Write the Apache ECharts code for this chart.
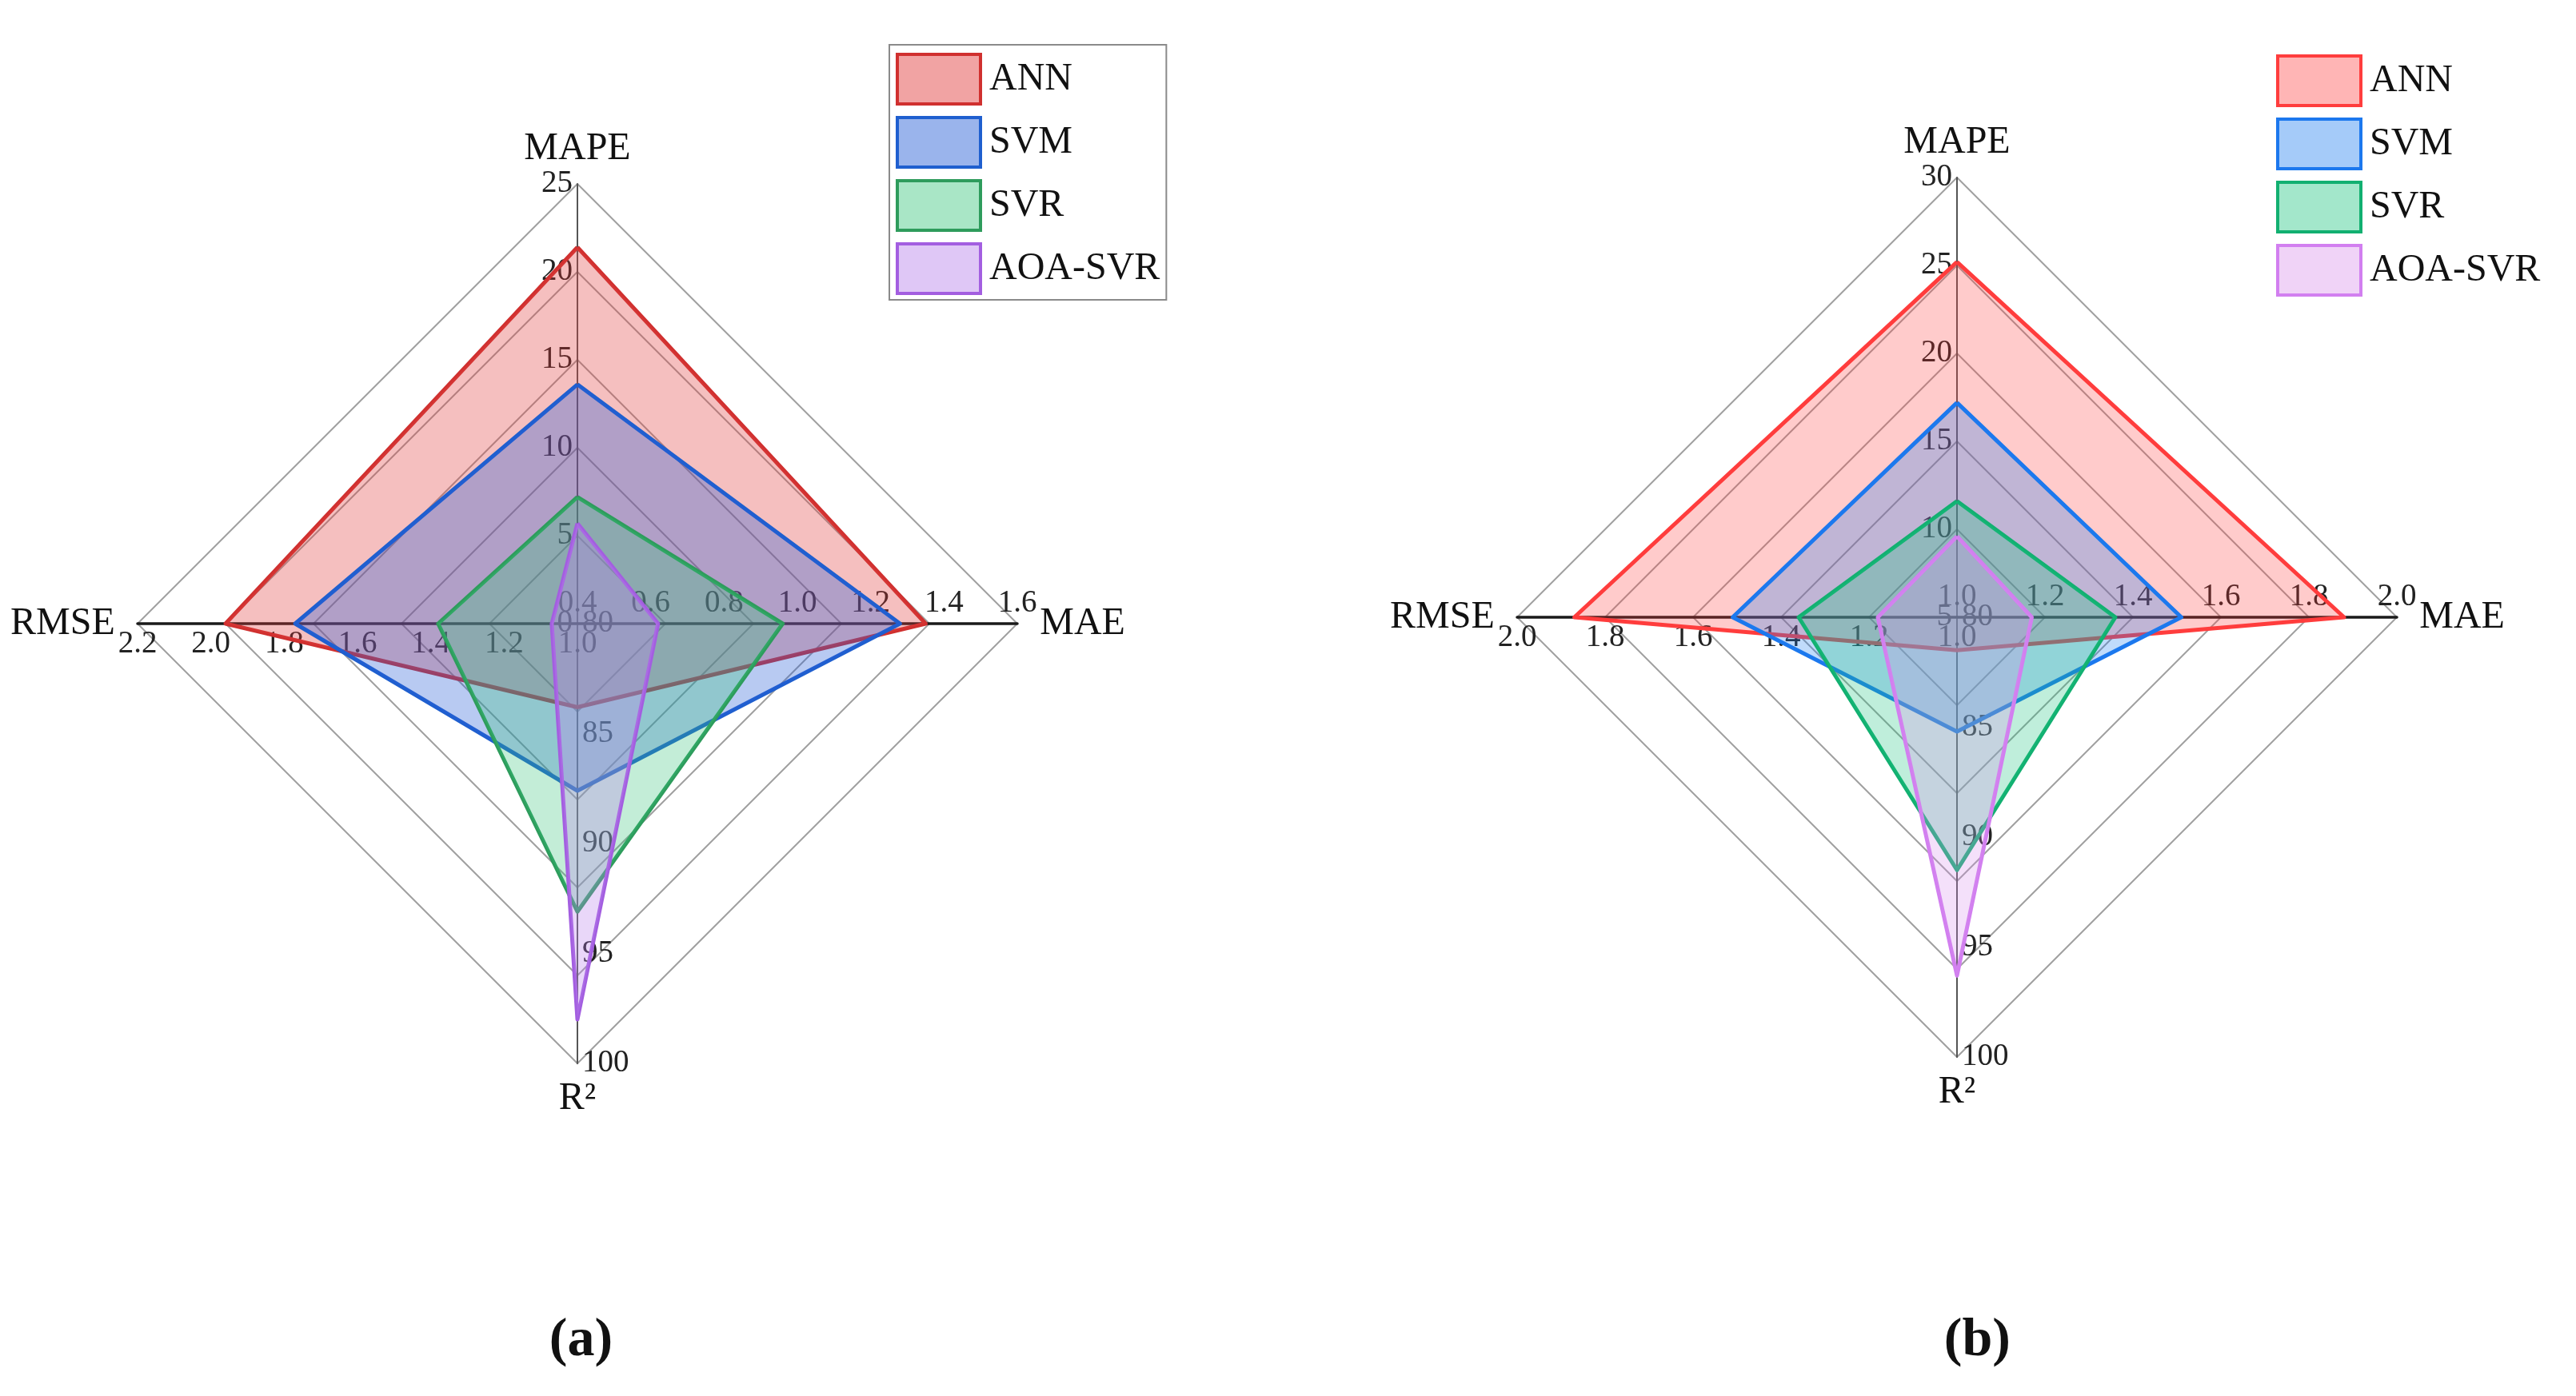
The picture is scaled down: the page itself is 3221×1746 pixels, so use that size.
<!DOCTYPE html>
<html>
<head>
<meta charset="utf-8">
<script src="https://cdn.jsdelivr.net/npm/echarts@6/dist/echarts.min.js"></script>
<style>
html,body{margin:0;padding:0;background:#fff;}
#chart{width:3221px;height:1746px;}
</style>
</head>
<body>
<div id="chart"></div>
<script>
// ---- Data ----
const models = ['ANN', 'SVM', 'SVR', 'AOA-SVR'];
const indicatorNames = ['MAPE', 'RMSE', 'R²', 'MAE'];

// Panel (a)
const mapeA = [21.4, 13.6, 7.2, 5.7];
const rmseA = [1.96, 1.77, 1.38, 1.07];
const r2A = [83.8, 87.6, 93.1, 98.0];
const maeA = [1.35, 1.28, 0.96, 0.62];
const mapeTicksA = [0, 5, 10, 15, 20, 25];
const rmseTicksA = [1.0, 1.2, 1.4, 1.6, 1.8, 2.0, 2.2];
const r2TicksA = [80, 85, 90, 95, 100];
const maeTicksA = [0.4, 0.6, 0.8, 1.0, 1.2, 1.4, 1.6];

// Panel (b)
const mapeB = [25.2, 17.2, 11.6, 9.6];
const rmseB = [1.87, 1.51, 1.36, 1.18];
const r2B = [81.5, 85.2, 91.5, 96.3];
const maeB = [1.88, 1.51, 1.36, 1.17];
const mapeTicksB = [5, 10, 15, 20, 25, 30];
const rmseTicksB = [1.0, 1.2, 1.4, 1.6, 1.8, 2.0];
const r2TicksB = [80, 85, 90, 95, 100];
const maeTicksB = [1.0, 1.2, 1.4, 1.6, 1.8, 2.0];

// ---- Styles ----
const SERIF = 'Liberation Serif';
const strokeA = ['#d0302f', '#1f5fcf', '#2e9c5c', '#a35ee0'];
const fillA = ['rgba(225,60,60,0.47)', 'rgba(40,95,215,0.47)', 'rgba(50,195,120,0.42)', 'rgba(185,130,235,0.45)'];
const strokeB = ['#ff3d3d', '#1c78ee', '#12b071', '#d27ff0'];
const fillB = ['rgba(255,60,60,0.38)', 'rgba(30,125,240,0.40)', 'rgba(25,195,125,0.40)', 'rgba(215,140,235,0.38)'];

function lcmSplit(arrs) {
  const g = (a, b) => b ? g(b, a % b) : a;
  return arrs.map(t => t.length - 1).reduce((a, b) => a * b / g(a, b), 1);
}

function tickFormatter(ticks, digits) {
  return function (v) {
    for (const t of ticks) {
      if (Math.abs(v - t) < 1e-6) return t.toFixed(digits);
    }
    return '';
  };
}

function makeIndicator(name, ticks, digits, horizontal) {
  return {
    name: name,
    min: ticks[0],
    max: ticks[ticks.length - 1],
    axisLabel: {
      show: true,
      formatter: tickFormatter(ticks, digits),
      color: '#222',
      fontFamily: SERIF,
      fontSize: 39,
      margin: 6
    },
    axisLine: {
      show: true,
      lineStyle: horizontal ? { color: '#1a1a1a', width: 3.5 } : { color: '#555', width: 2 }
    }
  };
}

function makeRadar(center, tickSets, digitsArr) {
  const split = lcmSplit(tickSets);
  const ringEvery = split / (tickSets[0].length - 1);
  const ringColors = [];
  for (let i = 0; i < ringEvery; i++) ringColors.push(i === 0 ? '#a0a0a0' : 'rgba(0,0,0,0)');
  return {
    center: center,
    radius: 550,
    startAngle: 90,
    shape: 'polygon',
    splitNumber: split,
    axisName: { color: '#111', fontFamily: SERIF, fontSize: 48 },
    nameGap: 20,
    splitArea: { show: false },
    splitLine: { lineStyle: { color: ringColors, width: 2 } },
    indicator: [
      makeIndicator(indicatorNames[0], tickSets[0], digitsArr[0], false),
      makeIndicator(indicatorNames[1], tickSets[1], digitsArr[1], true),
      makeIndicator(indicatorNames[2], tickSets[2], digitsArr[2], false),
      makeIndicator(indicatorNames[3], tickSets[3], digitsArr[3], true)
    ]
  };
}

function makeSeries(radarIndex, mape, rmse, r2, mae, strokes, fills) {
  return {
    type: 'radar',
    radarIndex: radarIndex,
    symbol: 'none',
    data: models.map((m, i) => ({
      name: m,
      value: [mape[i], rmse[i], r2[i], mae[i]],
      lineStyle: { color: strokes[i], width: 5 },
      areaStyle: { color: fills[i] },
      itemStyle: { color: strokes[i] }
    }))
  };
}

function makeLegend(pos, strokes, fills, bordered) {
  return Object.assign({
    orient: 'vertical',
    icon: 'rect',
    itemWidth: 104,
    itemHeight: 62,
    itemGap: 13,
    padding: [10, 8, 6, 8],
    borderColor: bordered ? '#8a8a8a' : 'transparent',
    borderWidth: bordered ? 2 : 0,
    textStyle: { fontFamily: SERIF, fontSize: 48, color: '#111', lineHeight: 62, padding: [0, 0, 0, 6] },
    selectedMode: false,
    data: models.map((m, i) => ({
      name: m,
      itemStyle: { color: fills[i], borderColor: strokes[i], borderWidth: 4, opacity: 1 }
    }))
  }, pos);
}

const chart = echarts.init(document.getElementById('chart'), null, { renderer: 'canvas' });
chart.setOption({
  backgroundColor: '#fff',
  animation: false,
  title: [
    { text: '(a)', left: '22.4%', top: 1638, textAlign: 'center',
      textStyle: { fontFamily: SERIF, fontSize: 68, fontWeight: 'bold', color: '#111' } },
    { text: '(b)', left: '76.6%', top: 1638, textAlign: 'center',
      textStyle: { fontFamily: SERIF, fontSize: 68, fontWeight: 'bold', color: '#111' } }
  ],
  legend: [
    makeLegend({ left: 1112, top: 56 }, strokeA, fillA, true),
    makeLegend({ left: 2838, top: 58 }, strokeB, fillB, false)
  ],
  radar: [
    makeRadar([722, 780], [mapeTicksA, rmseTicksA, r2TicksA, maeTicksA], [0, 1, 0, 1]),
    makeRadar([2447, 772], [mapeTicksB, rmseTicksB, r2TicksB, maeTicksB], [0, 1, 0, 1])
  ],
  series: [
    makeSeries(0, mapeA, rmseA, r2A, maeA, strokeA, fillA),
    makeSeries(1, mapeB, rmseB, r2B, maeB, strokeB, fillB)
  ]
});
</script>
</body>
</html>
